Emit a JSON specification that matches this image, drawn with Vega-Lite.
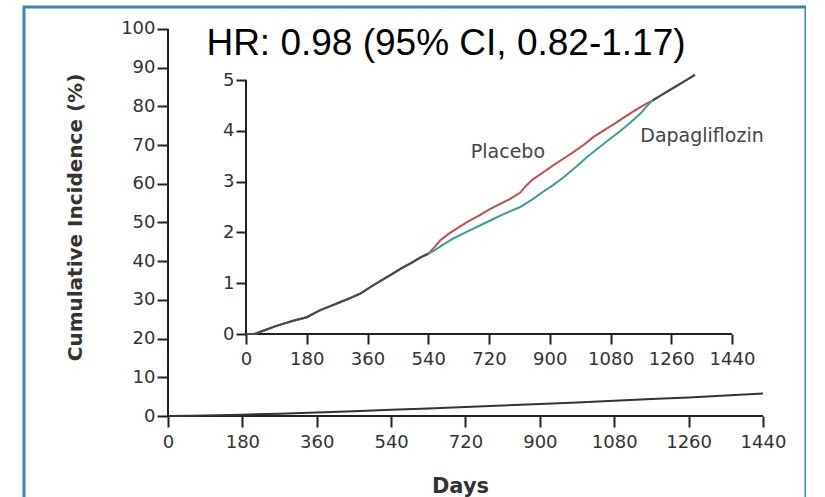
{
  "$schema": "https://vega.github.io/schema/vega-lite/v6.json",
  "width": 782,
  "height": 520,
  "autosize": {"type": "none"},
  "padding": {"left": 24, "top": 7, "right": 0, "bottom": 0},
  "background": "white",
  "title": {
    "text": "HR: 0.98 (95% CI, 0.82-1.17)",
    "font": "Liberation Sans",
    "fontSize": 37,
    "fontWeight": "normal",
    "color": "#000000",
    "anchor": "middle",
    "frame": "group",
    "orient": "top",
    "offset": 0,
    "baseline": "alphabetic",
    "dx": 31,
    "dy": 85
  },
  "config": {
    "view": {"stroke": "#3b87a5", "strokeWidth": 3},
    "axis": {
      "domain": false,
      "grid": false,
      "tickColor": "#222222",
      "tickWidth": 2,
      "labelFont": "DejaVu Sans",
      "labelColor": "#333333",
      "labelFlush": false,
      "labelOverlap": false,
      "labelBound": false,
      "labelAngle": 0,
      "format": "d",
      "titleFont": "DejaVu Sans",
      "titleColor": "#333333",
      "titleFontWeight": "bold"
    }
  },
  "datasets": {
    "outerAxes": [
      {"day": 0, "day2": 0, "pct": 0, "pct2": 100},
      {"day": 0, "day2": 1440, "pct": 0, "pct2": 0}
    ],
    "outer": [
      {"day": 0, "pct": 0}, {"day": 60, "pct": 0.05}, {"day": 120, "pct": 0.2},
      {"day": 180, "pct": 0.35}, {"day": 270, "pct": 0.6}, {"day": 360, "pct": 0.9},
      {"day": 450, "pct": 1.25}, {"day": 540, "pct": 1.6}, {"day": 630, "pct": 1.95},
      {"day": 720, "pct": 2.3}, {"day": 810, "pct": 2.7}, {"day": 900, "pct": 3.1},
      {"day": 990, "pct": 3.5}, {"day": 1080, "pct": 3.95}, {"day": 1170, "pct": 4.4},
      {"day": 1260, "pct": 4.8}, {"day": 1350, "pct": 5.3}, {"day": 1440, "pct": 5.8}
    ],
    "insetAxes": [
      {"day": 0, "day2": 0, "pct": 0, "pct2": 5},
      {"day": 0, "day2": 1440, "pct": 0, "pct2": 0}
    ],
    "inset": [
      {"arm": "Placebo", "day": 0, "pct": 0}, {"arm": "Placebo", "day": 25, "pct": 0},
      {"arm": "Placebo", "day": 45, "pct": 0.05}, {"arm": "Placebo", "day": 90, "pct": 0.16},
      {"arm": "Placebo", "day": 140, "pct": 0.26}, {"arm": "Placebo", "day": 180, "pct": 0.33},
      {"arm": "Placebo", "day": 200, "pct": 0.4}, {"arm": "Placebo", "day": 220, "pct": 0.47},
      {"arm": "Placebo", "day": 250, "pct": 0.55}, {"arm": "Placebo", "day": 280, "pct": 0.63},
      {"arm": "Placebo", "day": 310, "pct": 0.71}, {"arm": "Placebo", "day": 340, "pct": 0.8},
      {"arm": "Placebo", "day": 370, "pct": 0.93}, {"arm": "Placebo", "day": 400, "pct": 1.05},
      {"arm": "Placebo", "day": 430, "pct": 1.17}, {"arm": "Placebo", "day": 460, "pct": 1.29},
      {"arm": "Placebo", "day": 490, "pct": 1.4}, {"arm": "Placebo", "day": 520, "pct": 1.52},
      {"arm": "Placebo", "day": 540, "pct": 1.58}, {"arm": "Placebo", "day": 560, "pct": 1.72},
      {"arm": "Placebo", "day": 575, "pct": 1.84}, {"arm": "Placebo", "day": 600, "pct": 1.97},
      {"arm": "Placebo", "day": 630, "pct": 2.1}, {"arm": "Placebo", "day": 660, "pct": 2.22},
      {"arm": "Placebo", "day": 690, "pct": 2.33}, {"arm": "Placebo", "day": 720, "pct": 2.45},
      {"arm": "Placebo", "day": 750, "pct": 2.55}, {"arm": "Placebo", "day": 780, "pct": 2.65},
      {"arm": "Placebo", "day": 812, "pct": 2.78}, {"arm": "Placebo", "day": 830, "pct": 2.92},
      {"arm": "Placebo", "day": 851, "pct": 3.05}, {"arm": "Placebo", "day": 880, "pct": 3.18},
      {"arm": "Placebo", "day": 910, "pct": 3.32}, {"arm": "Placebo", "day": 940, "pct": 3.45},
      {"arm": "Placebo", "day": 970, "pct": 3.58}, {"arm": "Placebo", "day": 1000, "pct": 3.72},
      {"arm": "Placebo", "day": 1030, "pct": 3.88}, {"arm": "Placebo", "day": 1060, "pct": 4.01},
      {"arm": "Placebo", "day": 1090, "pct": 4.13}, {"arm": "Placebo", "day": 1128, "pct": 4.3},
      {"arm": "Placebo", "day": 1160, "pct": 4.43}, {"arm": "Placebo", "day": 1185, "pct": 4.53},
      {"arm": "Placebo", "day": 1205, "pct": 4.6}, {"arm": "Placebo", "day": 1230, "pct": 4.7},
      {"arm": "Placebo", "day": 1255, "pct": 4.8}, {"arm": "Placebo", "day": 1280, "pct": 4.9},
      {"arm": "Placebo", "day": 1305, "pct": 5.0}, {"arm": "Placebo", "day": 1330, "pct": 5.1},
      {"arm": "Dapagliflozin", "day": 0, "pct": 0}, {"arm": "Dapagliflozin", "day": 25, "pct": 0},
      {"arm": "Dapagliflozin", "day": 45, "pct": 0.05}, {"arm": "Dapagliflozin", "day": 90, "pct": 0.16},
      {"arm": "Dapagliflozin", "day": 140, "pct": 0.26}, {"arm": "Dapagliflozin", "day": 180, "pct": 0.33},
      {"arm": "Dapagliflozin", "day": 200, "pct": 0.4}, {"arm": "Dapagliflozin", "day": 220, "pct": 0.47},
      {"arm": "Dapagliflozin", "day": 250, "pct": 0.55}, {"arm": "Dapagliflozin", "day": 280, "pct": 0.63},
      {"arm": "Dapagliflozin", "day": 310, "pct": 0.71}, {"arm": "Dapagliflozin", "day": 340, "pct": 0.8},
      {"arm": "Dapagliflozin", "day": 370, "pct": 0.93}, {"arm": "Dapagliflozin", "day": 400, "pct": 1.05},
      {"arm": "Dapagliflozin", "day": 430, "pct": 1.17}, {"arm": "Dapagliflozin", "day": 460, "pct": 1.29},
      {"arm": "Dapagliflozin", "day": 490, "pct": 1.4}, {"arm": "Dapagliflozin", "day": 520, "pct": 1.52},
      {"arm": "Dapagliflozin", "day": 540, "pct": 1.58}, {"arm": "Dapagliflozin", "day": 560, "pct": 1.65},
      {"arm": "Dapagliflozin", "day": 575, "pct": 1.72}, {"arm": "Dapagliflozin", "day": 614, "pct": 1.88},
      {"arm": "Dapagliflozin", "day": 660, "pct": 2.03}, {"arm": "Dapagliflozin", "day": 713, "pct": 2.2},
      {"arm": "Dapagliflozin", "day": 760, "pct": 2.35}, {"arm": "Dapagliflozin", "day": 812, "pct": 2.5},
      {"arm": "Dapagliflozin", "day": 851, "pct": 2.66}, {"arm": "Dapagliflozin", "day": 880, "pct": 2.8},
      {"arm": "Dapagliflozin", "day": 910, "pct": 2.93}, {"arm": "Dapagliflozin", "day": 940, "pct": 3.08},
      {"arm": "Dapagliflozin", "day": 980, "pct": 3.3}, {"arm": "Dapagliflozin", "day": 1010, "pct": 3.48},
      {"arm": "Dapagliflozin", "day": 1040, "pct": 3.64}, {"arm": "Dapagliflozin", "day": 1080, "pct": 3.85},
      {"arm": "Dapagliflozin", "day": 1110, "pct": 4.0}, {"arm": "Dapagliflozin", "day": 1140, "pct": 4.17},
      {"arm": "Dapagliflozin", "day": 1170, "pct": 4.35}, {"arm": "Dapagliflozin", "day": 1190, "pct": 4.5},
      {"arm": "Dapagliflozin", "day": 1205, "pct": 4.6}, {"arm": "Dapagliflozin", "day": 1230, "pct": 4.7},
      {"arm": "Dapagliflozin", "day": 1255, "pct": 4.8}, {"arm": "Dapagliflozin", "day": 1280, "pct": 4.9},
      {"arm": "Dapagliflozin", "day": 1305, "pct": 5.0}, {"arm": "Dapagliflozin", "day": 1330, "pct": 5.1}
    ],
    "overlap": [
      {"seg": 1, "day": 0, "pct": 0}, {"seg": 1, "day": 25, "pct": 0},
      {"seg": 1, "day": 45, "pct": 0.05}, {"seg": 1, "day": 90, "pct": 0.16},
      {"seg": 1, "day": 140, "pct": 0.26}, {"seg": 1, "day": 180, "pct": 0.33},
      {"seg": 1, "day": 200, "pct": 0.4}, {"seg": 1, "day": 220, "pct": 0.47},
      {"seg": 1, "day": 250, "pct": 0.55}, {"seg": 1, "day": 280, "pct": 0.63},
      {"seg": 1, "day": 310, "pct": 0.71}, {"seg": 1, "day": 340, "pct": 0.8},
      {"seg": 1, "day": 370, "pct": 0.93}, {"seg": 1, "day": 400, "pct": 1.05},
      {"seg": 1, "day": 430, "pct": 1.17}, {"seg": 1, "day": 460, "pct": 1.29},
      {"seg": 1, "day": 490, "pct": 1.4}, {"seg": 1, "day": 520, "pct": 1.52},
      {"seg": 1, "day": 540, "pct": 1.58},
      {"seg": 2, "day": 1205, "pct": 4.6}, {"seg": 2, "day": 1230, "pct": 4.7},
      {"seg": 2, "day": 1255, "pct": 4.8}, {"seg": 2, "day": 1280, "pct": 4.9},
      {"seg": 2, "day": 1305, "pct": 5.0}, {"seg": 2, "day": 1330, "pct": 5.1}
    ],
    "labels": [
      {"day": 776, "pct": 3.46, "text": "Placebo"},
      {"day": 1351, "pct": 3.78, "text": "Dapagliflozin"}
    ]
  },
  "layer": [
    {
      "layer": [
        {
          "data": {"name": "outerAxes"},
          "mark": {"type": "rule", "color": "#222222", "strokeWidth": 2},
          "encoding": {
            "x": {
              "field": "day", "type": "quantitative",
              "scale": {"domain": [-348.5, 1544.1], "nice": false, "zero": false},
              "axis": {
                "orient": "bottom", "offset": -111,
                "values": [0, 180, 360, 540, 720, 900, 1080, 1260, 1440],
                "tickSize": 11, "labelFontSize": 18, "labelPadding": 6,
                "title": "Days", "titleFontSize": 21, "titlePadding": 24, "titleX": 436
              }
            },
            "x2": {"field": "day2"},
            "y": {
              "field": "pct", "type": "quantitative",
              "scale": {"domain": [-28.68, 105.68], "nice": false, "zero": false},
              "axis": {
                "orient": "left", "offset": -144,
                "values": [0, 10, 20, 30, 40, 50, 60, 70, 80, 90, 100],
                "tickSize": 11, "labelFontSize": 18, "labelPadding": 2,
                "title": "Cumulative Incidence (%)", "titleFontSize": 20, "titlePadding": 35, "titleY": 210
              }
            },
            "y2": {"field": "pct2"}
          }
        },
        {
          "data": {"name": "outer"},
          "mark": {"type": "line", "color": "#333333", "strokeWidth": 2},
          "encoding": {
            "x": {"field": "day", "type": "quantitative"},
            "y": {"field": "pct", "type": "quantitative"}
          }
        }
      ]
    },
    {
      "layer": [
        {
          "data": {"name": "insetAxes"},
          "mark": {"type": "rule", "color": "#222222", "strokeWidth": 2},
          "encoding": {
            "x": {
              "field": "day", "type": "quantitative",
              "scale": {"domain": [-657.8, 1659.2], "nice": false, "zero": false},
              "axis": {
                "orient": "bottom", "offset": -193,
                "values": [0, 180, 360, 540, 720, 900, 1080, 1260, 1440],
                "tickSize": 10, "labelFontSize": 18, "labelPadding": 6, "title": null
              }
            },
            "x2": {"field": "day2"},
            "y": {
              "field": "pct", "type": "quantitative",
              "scale": {"domain": [-3.799, 6.437], "nice": false, "zero": false},
              "axis": {
                "orient": "left", "offset": -222,
                "values": [0, 1, 2, 3, 4, 5],
                "tickSize": 10, "labelFontSize": 18, "labelPadding": 2, "title": null
              }
            },
            "y2": {"field": "pct2"}
          }
        },
        {
          "data": {"name": "inset"},
          "mark": {"type": "line", "strokeWidth": 2},
          "encoding": {
            "x": {"field": "day", "type": "quantitative"},
            "y": {"field": "pct", "type": "quantitative"},
            "color": {
              "field": "arm", "type": "nominal",
              "scale": {"domain": ["Dapagliflozin", "Placebo"], "range": ["#3a9e9b", "#c0504d"]},
              "legend": null
            }
          }
        },
        {
          "data": {"name": "overlap"},
          "mark": {"type": "line", "strokeWidth": 2, "color": "#4a4a4a"},
          "encoding": {
            "x": {"field": "day", "type": "quantitative"},
            "y": {"field": "pct", "type": "quantitative"},
            "detail": {"field": "seg", "type": "nominal"}
          }
        },
        {
          "data": {"name": "labels"},
          "mark": {"type": "text", "font": "DejaVu Sans", "fontSize": 19, "color": "#444444", "align": "center", "baseline": "alphabetic"},
          "encoding": {
            "x": {"field": "day", "type": "quantitative"},
            "y": {"field": "pct", "type": "quantitative"},
            "text": {"field": "text", "type": "nominal"}
          }
        }
      ]
    }
  ],
  "resolve": {
    "scale": {"x": "independent", "y": "independent"},
    "axis": {"x": "independent", "y": "independent"}
  }
}
